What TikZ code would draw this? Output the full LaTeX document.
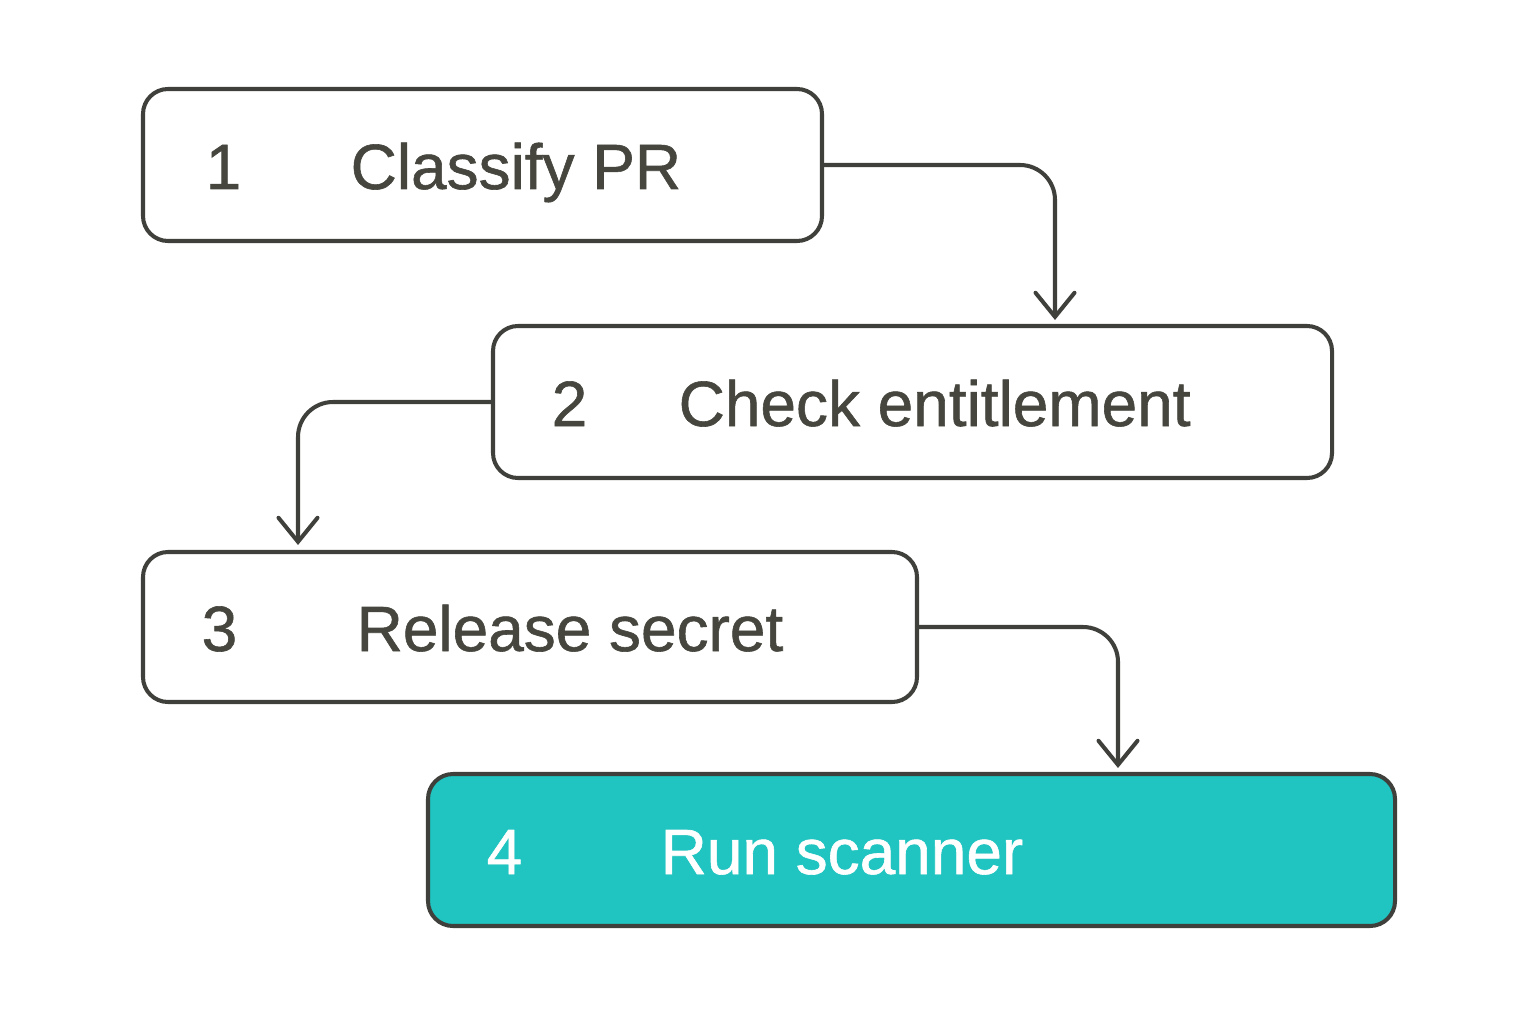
\documentclass[tikz,border=0pt]{standalone}
\usepackage{xcolor}
\usepackage{fontspec}
\setmainfont{Liberation Sans}
\newfontfamily\stepfont[FakeBold=0.9]{Liberation Sans}
\usepackage{tikz}
\usetikzlibrary{arrows.meta}

\definecolor{inkgray}{HTML}{3F3F3B}
\definecolor{textgray}{HTML}{46463F}
\definecolor{scanteal}{HTML}{20C4C0}

\tikzset{
    stepbox/.style = {draw = inkgray, line width = 1.15pt, fill = white,
        rounded corners = 0.25cm, inner sep = 0pt},
    runbox/.style = {stepbox, fill = scanteal},
    steplbl/.style = {anchor = base west, inner sep = 0pt, text = textgray,
        font = \stepfont\fontsize{18.2}{22}\selectfont},
    runlbl/.style = {steplbl, text = white},
    flow/.style = {draw = inkgray, line width = 1.15pt, rounded corners = 0.35cm,
        -{Straight Barb[length = 2.4mm, width = 3.9mm, line cap = round]}}
}

\begin{document}
\begin{tikzpicture}
        \useasboundingbox (0, 0) rectangle (15.36, 10.24);

        \node[stepbox, minimum width = 6.79cm, minimum height = 1.52cm] (b1) at (4.825, 8.59) {};
        \node[stepbox, minimum width = 8.39cm, minimum height = 1.52cm] (b2) at (9.125, 6.22) {};
        \node[stepbox, minimum width = 7.74cm, minimum height = 1.50cm] (b3) at (5.30, 3.97) {};
        \node[runbox, minimum width = 9.67cm, minimum height = 1.52cm] (b4) at (9.115, 1.74) {};

        \node[steplbl] (n1) at ([xshift = 0.64cm, yshift = -0.24cm] b1.west) {1};
        \node[steplbl] (t1) at ([xshift = 2.09cm, yshift = -0.24cm] b1.west) {Classify PR};
        \node[steplbl] (n2) at ([xshift = 0.60cm, yshift = -0.24cm] b2.west) {2};
        \node[steplbl] (t2) at ([xshift = 1.87cm, yshift = -0.24cm] b2.west) {Check entitlement};
        \node[steplbl] (n3) at ([xshift = 0.60cm, yshift = -0.24cm] b3.west) {3};
        \node[steplbl] (t3) at ([xshift = 2.15cm, yshift = -0.24cm] b3.west) {Release secret};
        \node[runlbl] (n4) at ([xshift = 0.60cm, yshift = -0.24cm] b4.west) {4};
        \node[runlbl] (t4) at ([xshift = 2.34cm, yshift = -0.24cm] b4.west) {Run scanner};

        \coordinate (in2) at (10.55, 7.04);
        \coordinate (in3) at (2.98, 4.79);
        \coordinate (in4) at (11.18, 2.56);

        \draw[flow] (b1.east) -| (in2);
        \draw[flow] (b2.west) -| (in3);
        \draw[flow] (b3.east) -| (in4);
\end{tikzpicture}
\end{document}
